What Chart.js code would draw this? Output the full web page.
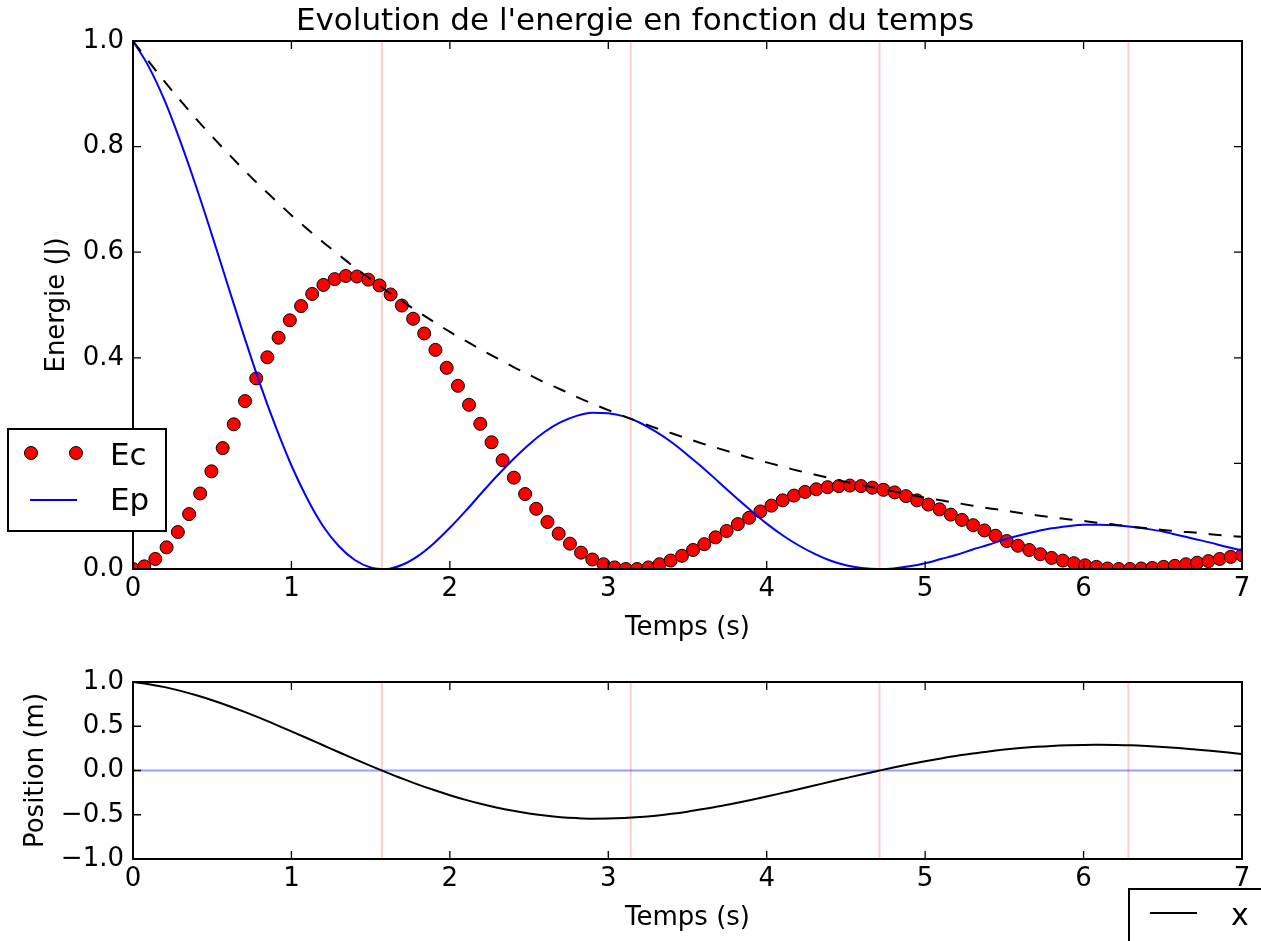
<!DOCTYPE html>
<html><head><meta charset="utf-8">
<script src="https://cdn.jsdelivr.net/npm/chart.js@4.4.1/dist/chart.umd.min.js"></script>
<style>
html,body{margin:0;padding:0;background:#fff;overflow:hidden;}
#wrap{position:relative;width:1261px;height:941px;background:#fff;}
canvas{position:absolute;left:0;}
</style></head><body>
<div id="wrap">
<canvas id="top" width="1261" height="649" style="top:0;width:1261px;height:649px"></canvas>
<canvas id="bot" width="1261" height="292" style="top:649px;width:1261px;height:292px"></canvas>
</div>
<script>
// ---- data ----
const tLine = [0.0,0.1,0.2,0.3,0.4,0.5,0.6,0.7,0.8,0.9,1.0,1.1,1.2,1.3,1.4,1.5,1.6,1.7,1.8,1.9,2.0,2.1,2.2,2.3,2.4,2.5,2.6,2.7,2.8,2.9,3.0,3.1,3.2,3.3,3.4,3.5,3.6,3.7,3.8,3.9,4.0,4.1,4.2,4.3,4.4,4.5,4.6,4.7,4.8,4.9,5.0,5.1,5.2,5.3,5.4,5.5,5.6,5.7,5.8,5.9,6.0,6.1,6.2,6.3,6.4,6.5,6.6,6.7,6.8,6.9,7.0];
const epValues = [1.000,0.951,0.887,0.809,0.723,0.631,0.536,0.442,0.352,0.270,0.196,0.133,0.081,0.043,0.017,0.003,0.000,0.008,0.025,0.049,0.078,0.110,0.144,0.177,0.208,0.236,0.260,0.278,0.290,0.296,0.295,0.289,0.277,0.260,0.240,0.216,0.191,0.164,0.137,0.111,0.086,0.064,0.045,0.029,0.016,0.007,0.002,0.000,0.001,0.005,0.011,0.019,0.027,0.037,0.046,0.056,0.064,0.071,0.077,0.081,0.084,0.084,0.083,0.080,0.076,0.071,0.064,0.057,0.050,0.042,0.035];
const envelopeValues = [1.000,0.961,0.923,0.887,0.852,0.819,0.787,0.756,0.726,0.698,0.670,0.644,0.619,0.595,0.571,0.549,0.527,0.507,0.487,0.468,0.449,0.432,0.415,0.399,0.383,0.368,0.353,0.340,0.326,0.313,0.301,0.289,0.278,0.267,0.257,0.247,0.237,0.228,0.219,0.210,0.202,0.194,0.186,0.179,0.172,0.165,0.159,0.153,0.147,0.141,0.135,0.130,0.125,0.120,0.115,0.111,0.106,0.102,0.098,0.094,0.091,0.087,0.084,0.080,0.077,0.074,0.071,0.069,0.066,0.063,0.061];
const positionValues = [1.000,0.975,0.942,0.900,0.850,0.794,0.732,0.665,0.594,0.519,0.442,0.364,0.285,0.206,0.128,0.052,-0.021,-0.092,-0.159,-0.221,-0.279,-0.332,-0.379,-0.421,-0.456,-0.486,-0.509,-0.527,-0.538,-0.544,-0.543,-0.537,-0.526,-0.510,-0.490,-0.465,-0.436,-0.405,-0.370,-0.333,-0.294,-0.253,-0.212,-0.170,-0.127,-0.086,-0.045,-0.005,0.034,0.070,0.104,0.136,0.166,0.192,0.216,0.236,0.253,0.267,0.278,0.285,0.289,0.290,0.288,0.284,0.276,0.266,0.254,0.239,0.223,0.205,0.186];
const ecTimes = [0.000,0.071,0.141,0.212,0.283,0.354,0.424,0.495,0.566,0.636,0.707,0.778,0.848,0.919,0.990,1.061,1.131,1.202,1.273,1.343,1.414,1.485,1.556,1.626,1.697,1.768,1.838,1.909,1.980,2.051,2.121,2.192,2.263,2.333,2.404,2.475,2.545,2.616,2.687,2.758,2.828,2.899,2.970,3.040,3.111,3.182,3.253,3.323,3.394,3.465,3.535,3.606,3.677,3.747,3.818,3.889,3.960,4.030,4.101,4.172,4.242,4.313,4.384,4.455,4.525,4.596,4.667,4.737,4.808,4.879,4.949,5.020,5.091,5.162,5.232,5.303,5.374,5.444,5.515,5.586,5.657,5.727,5.798,5.869,5.939,6.010,6.081,6.152,6.222,6.293,6.364,6.434,6.505,6.576,6.646,6.717,6.788,6.859,6.929,7.000];
const ecValues = [0.000,0.005,0.019,0.041,0.070,0.104,0.143,0.185,0.229,0.274,
0.318,0.361,0.401,0.438,0.471,0.498,0.521,0.538,0.549,0.555,
0.554,0.548,0.537,0.520,0.499,0.474,0.446,0.415,0.381,0.347,
0.311,0.275,0.240,0.206,0.173,0.142,0.114,0.089,0.067,0.048,
0.031,0.018,0.009,0.003,0.000,0.000,0.003,0.009,0.016,0.025,
0.036,0.047,0.060,0.072,0.085,0.097,0.109,0.120,0.130,0.139,
0.146,0.151,0.155,0.157,0.158,0.157,0.154,0.150,0.145,0.138,
0.130,0.122,0.113,0.103,0.093,0.083,0.073,0.063,0.053,0.044,
0.036,0.028,0.021,0.016,0.011,0.007,0.004,0.001,0.000,0.000,
0.001,0.002,0.004,0.006,0.009,0.012,0.015,0.019,0.023,0.026];
const markerTimes = [1.571,3.142,4.712,6.283];
const timeTicks = [0,1,2,3,4,5,6,7];
const energyTicks = [0.0,0.2,0.4,0.6,0.8,1.0];
const positionTicks = [-1.0,-0.5,0.0,0.5,1.0];
const seriesNames = ['Ec','Ep','x'];
const titleText = "Evolution de l'energie en fonction du temps";
const xTitle = 'Temps (s)';
const yTitleTop = 'Energie (J)';
const yTitleBot = 'Position (m)';

// ---- rendering ----
const FAM = '"DejaVu Sans", sans-serif';
Chart.defaults.font.family = FAM;
Chart.defaults.font.size = 26;
Chart.defaults.color = '#000';

const pts = (xs, ys) => xs.map((x, i) => ({x: x, y: ys[i]}));
const fmt = v => { const s = Number(v).toFixed(1); return s.replace('-', '\u2212'); };

function vlines(ymin, ymax) {
  return markerTimes.map(t => ({
    type: 'line', data: [{x: t, y: ymin}, {x: t, y: ymax}],
    borderColor: 'rgba(255,0,0,0.2)', borderWidth: 2, pointRadius: 0, order: 10, clip: 0
  }));
}

function frame(chart) {
  const {ctx, chartArea: a, scales} = chart;
  const xs = scales.x, ys = scales.y;
  ctx.save();
  ctx.strokeStyle = '#000';
  ctx.lineWidth = 1.3;
  ctx.beginPath();
  xs.ticks.forEach(t => {
    const p = xs.getPixelForValue(t.value);
    ctx.moveTo(p, a.bottom); ctx.lineTo(p, a.bottom - 8);
    ctx.moveTo(p, a.top); ctx.lineTo(p, a.top + 8);
  });
  ys.ticks.forEach(t => {
    const p = ys.getPixelForValue(t.value);
    ctx.moveTo(a.left, p); ctx.lineTo(a.left + 8, p);
    ctx.moveTo(a.right, p); ctx.lineTo(a.right - 8, p);
  });
  ctx.stroke();
  ctx.lineWidth = 2;
  ctx.strokeRect(a.left, a.top, a.right - a.left, a.bottom - a.top);
  ctx.restore();
}

function axisTitles(chart, yTitle, yTitleX) {
  const {ctx, chartArea: a} = chart;
  ctx.save();
  ctx.fillStyle = '#000';
  ctx.font = '26px ' + FAM;
  ctx.textAlign = 'center';
  ctx.textBaseline = 'alphabetic';
  ctx.fillText(xTitle, (a.left + a.right) / 2, a.bottom + 66);
  ctx.translate(yTitleX, (a.top + a.bottom) / 2);
  ctx.rotate(-Math.PI / 2);
  ctx.fillText(yTitle, 0, 0);
  ctx.restore();
}

function scalesCfg(ymin, ymax, yticks, yAfterHeight) {
  return {
    x: {
      type: 'linear', min: 0, max: 7,
      afterBuildTicks: s => { s.ticks = timeTicks.map(v => ({value: v})); },
      ticks: {autoSkip: false, maxRotation: 0, padding: 5, callback: v => String(v)},
      grid: {display: false, drawTicks: false}, border: {display: false},
      afterFit: s => { s.height = yAfterHeight; }
    },
    y: {
      type: 'linear', min: ymin, max: ymax,
      afterBuildTicks: s => { s.ticks = yticks.map(v => ({value: v})); },
      ticks: {autoSkip: false, padding: 9, callback: v => fmt(v)},
      grid: {display: false, drawTicks: false}, border: {display: false},
      afterFit: s => { s.width = 133; }
    }
  };
}

const commonOpts = {
  responsive: false, maintainAspectRatio: false, animation: false, devicePixelRatio: 1,
  plugins: {legend: {display: false}, tooltip: {enabled: false}, title: {display: false}},
  elements: {line: {tension: 0}}
};

// Top chart
new Chart(document.getElementById('top'), {
  type: 'line',
  data: {
    datasets: [
      ...vlines(0, 1),
      {label: seriesNames[0], data: pts(ecTimes, ecValues), showLine: false,
       pointRadius: 6.5, pointBackgroundColor: '#ff0000', pointBorderColor: '#000', pointBorderWidth: 1,
       order: 3, clip: 0},
      {label: seriesNames[1], data: pts(tLine, epValues), borderColor: '#0000ff', borderWidth: 2,
       pointRadius: 0, cubicInterpolationMode: 'monotone', order: 2, clip: 0},
      {label: 'env', data: pts(tLine, envelopeValues), borderColor: '#000', borderWidth: 2, borderDash: [13, 12],
       pointRadius: 0, cubicInterpolationMode: 'monotone', order: 1, clip: 0}
    ]
  },
  options: Object.assign({}, commonOpts, {
    layout: {padding: {top: 41, right: 19, left: 0, bottom: 0}},
    scales: scalesCfg(0, 1, energyTicks, 80)
  }),
  plugins: [{
    id: 'decorTop',
    afterDatasetsDraw(chart) { frame(chart); },
    afterDraw(chart) {
      const ctx = chart.ctx;
      axisTitles(chart, yTitleTop, 64);
      ctx.save();
      ctx.fillStyle = '#000';
      ctx.font = '31px ' + FAM;
      ctx.textAlign = 'center';
      ctx.textBaseline = 'alphabetic';
      ctx.fillText(titleText, 635, 30);
      // legend
      ctx.fillStyle = '#fff';
      ctx.fillRect(8, 429, 158, 102);
      ctx.strokeStyle = '#000';
      ctx.lineWidth = 2;
      ctx.strokeRect(8, 429, 158, 102);
      [31, 76].forEach(x => {
        ctx.beginPath(); ctx.arc(x, 453, 6.5, 0, Math.PI * 2);
        ctx.fillStyle = '#ff0000'; ctx.fill();
        ctx.lineWidth = 1; ctx.strokeStyle = '#000'; ctx.stroke();
      });
      ctx.strokeStyle = '#0000ff'; ctx.lineWidth = 2;
      ctx.beginPath(); ctx.moveTo(30, 500); ctx.lineTo(77, 500); ctx.stroke();
      ctx.fillStyle = '#000';
      ctx.textAlign = 'left';
      ctx.fillText(seriesNames[0], 110, 465);
      ctx.fillText(seriesNames[1], 110, 510);
      ctx.restore();
    }
  }]
});

// Bottom chart
new Chart(document.getElementById('bot'), {
  type: 'line',
  data: {
    datasets: [
      ...vlines(-1, 1),
      {label: 'zero', data: [{x: 0, y: 0}, {x: 7, y: 0}], borderColor: 'rgba(0,0,255,0.38)', borderWidth: 2,
       pointRadius: 0, order: 9, clip: 0},
      {label: seriesNames[2], data: pts(tLine, positionValues), borderColor: '#000', borderWidth: 2,
       pointRadius: 0, cubicInterpolationMode: 'monotone', order: 1, clip: 0}
    ]
  },
  options: Object.assign({}, commonOpts, {
    layout: {padding: {top: 33, right: 19, left: 0, bottom: 0}},
    scales: scalesCfg(-1, 1, positionTicks, 82)
  }),
  plugins: [{
    id: 'decorBot',
    afterDatasetsDraw(chart) { frame(chart); },
    afterDraw(chart) {
      const ctx = chart.ctx;
      axisTitles(chart, yTitleBot, 43);
      ctx.save();
      ctx.strokeStyle = '#000';
      ctx.lineWidth = 2;
      ctx.strokeRect(1129, 240, 200, 120);
      ctx.lineWidth = 2;
      ctx.beginPath(); ctx.moveTo(1150, 264); ctx.lineTo(1197, 264); ctx.stroke();
      ctx.fillStyle = '#000';
      ctx.font = '30px ' + FAM;
      ctx.textAlign = 'left';
      ctx.textBaseline = 'alphabetic';
      ctx.fillText(seriesNames[2], 1231, 276);
      ctx.restore();
    }
  }]
});
</script>
</body></html>
